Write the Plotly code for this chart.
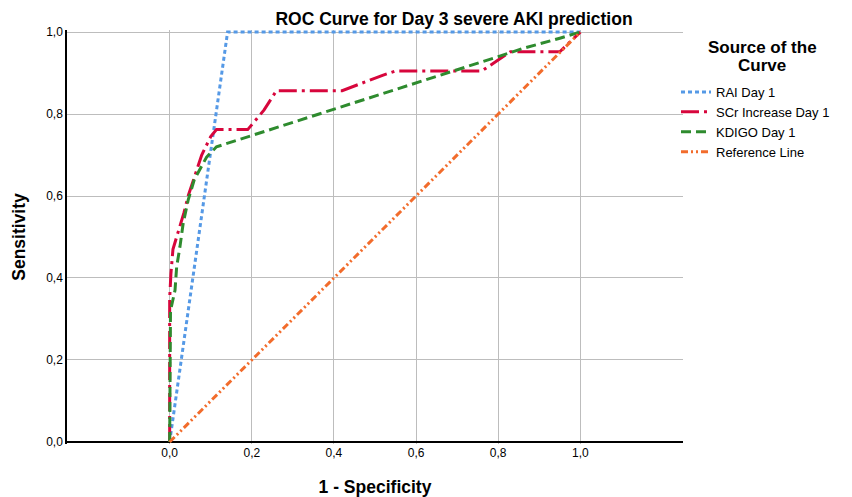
import plotly.graph_objects as go

# ---- data ----
rai_x = [0.0, 0.141, 1.0]
rai_y = [0.0, 1.0, 1.0]

scr_x = [0.0, 0.0, 0.003, 0.008, 0.02, 0.035, 0.045, 0.06, 0.078, 0.10, 0.114, 0.19, 0.23, 0.26, 0.42, 0.52, 0.55, 0.76, 0.83, 0.95, 1.0]
scr_y = [0.0, 0.35, 0.41, 0.47, 0.51, 0.56, 0.60, 0.645, 0.70, 0.745, 0.762, 0.762, 0.81, 0.857, 0.857, 0.895, 0.905, 0.905, 0.952, 0.952, 1.0]

kdigo_x = [0.0, 0.002, 0.013, 0.017, 0.025, 0.033, 0.045, 0.06, 0.09, 0.114, 0.80, 0.86, 0.95, 1.0]
kdigo_y = [0.0, 0.32, 0.37, 0.427, 0.476, 0.534, 0.59, 0.64, 0.695, 0.72, 0.94, 0.96, 0.985, 1.0]

ref_x = [0.0, 1.0]
ref_y = [0.0, 1.0]

tick_vals = [0.0, 0.2, 0.4, 0.6, 0.8, 1.0]
tick_text = ["0,0", "0,2", "0,4", "0,6", "0,8", "1,0"]

series_names = ["RAI Day 1", "SCr Increase Day 1", "KDIGO Day 1", "Reference Line"]
legend_title_lines = ["Source of the", "Curve"]
colors = ["#5599e6", "#d7063c", "#2e8b2e", "#f26c2c"]
dashes = ["4px,3px", "18px,5px,3px,5px", "10px,5px", "7px,3px,2px,3px,2px,3px"]

FONT = "Liberation Sans, Arial, sans-serif"

fig = go.Figure()
for xs, ys, name, c, d in zip([rai_x, scr_x, kdigo_x, ref_x],
                              [rai_y, scr_y, kdigo_y, ref_y],
                              series_names, colors, dashes):
    fig.add_trace(go.Scatter(x=xs, y=ys, mode="lines", name=name,
                             line=dict(color=c, width=3, dash=d)))

PT, PB = 30, 444  # plot area top / bottom pixels
PL, PR = 67, 683

def py(pix):  # pixel y -> paper y
    return (PB - pix) / (PB - PT)

def px(pix):  # pixel x -> paper x
    return (pix - PL) / (PR - PL)

annots = []
for line, ypix in zip(legend_title_lines, [48, 65]):
    annots.append(dict(text="<b>%s</b>" % line, x=px(762), y=py(ypix),
                       xref="paper", yref="paper", showarrow=False,
                       xanchor="center", yanchor="middle",
                       font=dict(size=17)))

fig.update_layout(
    width=852, height=497,
    margin=dict(l=PL, r=852 - PR, t=PT, b=497 - PB, autoexpand=False),
    paper_bgcolor="white", plot_bgcolor="white",
    font=dict(family=FONT, size=12, color="#000"),
    title=dict(text="<b>ROC Curve for Day 3 severe AKI prediction</b>",
               x=454 / 852, xref="container", xanchor="center",
               y=1 - 19 / 497, yref="container", yanchor="middle",
               font=dict(size=17.5, color="#000"), automargin=False),
    showlegend=True,
    legend=dict(x=px(676), xanchor="left", y=py(77), yanchor="top",
                font=dict(size=13), tracegroupgap=0, itemwidth=30,
                bgcolor="rgba(0,0,0,0)"),
    annotations=annots,
)

fig.update_xaxes(range=[-0.25, 1.25], tickvals=tick_vals, ticktext=tick_text,
                 showgrid=True, gridcolor="#bdbdbd", gridwidth=1,
                 zeroline=False, showline=False, ticks="", automargin=False,
                 tickfont=dict(size=12),
                 title=dict(text="<b>1 - Specificity</b>", font=dict(size=17.5), standoff=22))
fig.update_yaxes(range=[-0.005, 1.005], tickvals=tick_vals, ticktext=tick_text,
                 showgrid=True, gridcolor="#bdbdbd", gridwidth=1,
                 zeroline=True, zerolinecolor="#000", zerolinewidth=1.5,
                 showline=True, linecolor="#000", linewidth=1.5, ticks="", automargin=False,
                 tickfont=dict(size=12),
                 title=dict(text="<b>Sensitivity</b>", font=dict(size=17.5), standoff=16))

fig.write_html("out.html", config={"displayModeBar": False},
               post_script="document.body.style.margin='0';document.body.style.padding='0';")
